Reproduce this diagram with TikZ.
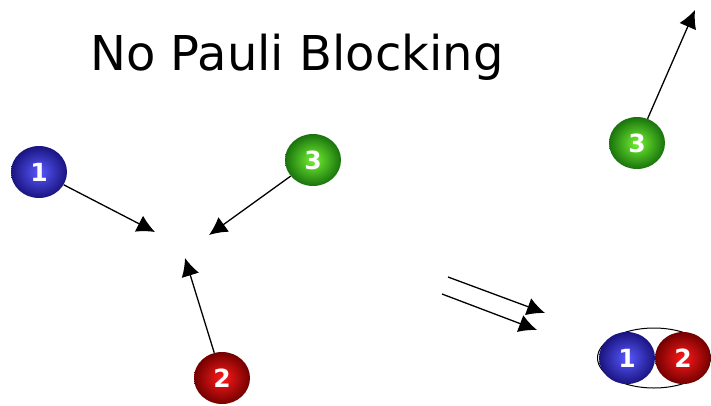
\documentclass[tikz,border=0pt]{standalone}
\usepackage{fontspec}
\setmainfont{DejaVu Sans}
\usetikzlibrary{arrows.meta,shapes.geometric}
\tikzset{
  ball/.style={ellipse, minimum width=56pt, minimum height=52pt, inner sep=0pt,
    text=white, font=\fontsize{25}{25}\selectfont\bfseries},
  blueball/.style={ball, inner color={rgb,1:red,0.35;green,0.35;blue,1}, outer color={rgb,1:red,0.1;green,0.08;blue,0.5}},
  redball/.style={ball, inner color={rgb,1:red,1;green,0.1;blue,0.1}, outer color={rgb,1:red,0.45;green,0;blue,0}},
  greenball/.style={ball, inner color={rgb,1:red,0.45;green,0.95;blue,0.2}, outer color={rgb,1:red,0.1;green,0.45;blue,0.05}},
  arr/.style={draw=black, line width=1.3pt, -{Latex[length=18pt,width=18pt]}},
}
\begin{document}
\begin{tikzpicture}[x=1pt,y=-1pt]
\useasboundingbox (0,0) rectangle (711,405);
\node[font=\fontsize{48}{48}\selectfont] (title) at (297,57) {No Pauli Blocking};
% left: three particles converging
\node[blueball] (b1) at (39,172) {1};
\node[greenball] (b3) at (313,160) {3};
\node[redball] (b2) at (222,378) {2};
\coordinate (t1) at (155,232);
\coordinate (t3) at (209,235);
\coordinate (t2) at (185,258);
\draw[arr] (b1) -- (t1);
\draw[arr] (b3) -- (t3);
\draw[arr] (b2) -- (t2);
% double arrow
\coordinate (d1s) at (448,277); \coordinate (d1e) at (545,313);
\coordinate (d2s) at (442,294); \coordinate (d2e) at (537,330);
\draw[arr] (d1s) -- (d1e);
\draw[arr] (d2s) -- (d2e);
% right: result
\node[greenball] (r3) at (637,143) {3};
\coordinate (r3t) at (695,10);
\draw[arr] (r3) -- (r3t);
\node[ellipse, draw=black, line width=1pt, minimum width=113pt, minimum height=60pt] (pair) at (654,358) {};
\node[blueball] (r1) at (627,358) {1};
\node[redball] (r2) at (683,358) {2};
\end{tikzpicture}
\end{document}
